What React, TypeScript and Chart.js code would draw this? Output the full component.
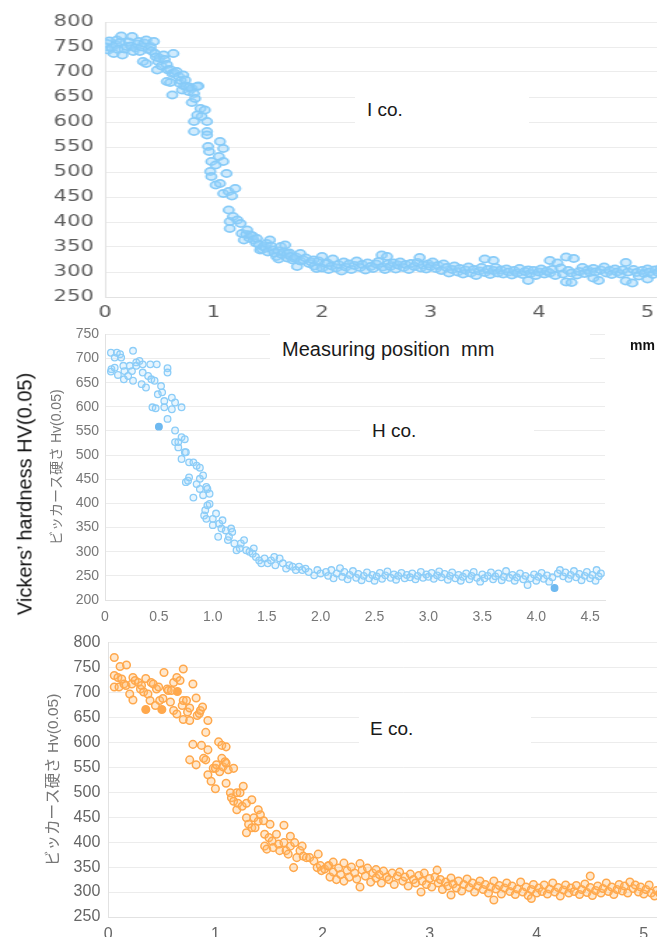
import React, { useEffect, useRef } from 'react';
import { Chart, registerables } from 'chart.js';

Chart.register(...registerables);

const FONT = "'Liberation Sans', Arial, 'Noto Sans CJK JP', sans-serif";
const WIDE_FONT = "'DejaVu Sans', 'Liberation Sans', sans-serif";

// ---------- I co. (top panel) ----------
const I_Y_RANGE = [250, 800];
const I_X_RANGE = [0, 5.5];
const I_DROP: [number, number][] = [
  [0.01,750],[0.02,757],[0.03,744],[0.04,762],[0.06,748],[0.08,737],[0.1,755],[0.11,764],[0.12,745],[0.14,760],
  [0.15,772],[0.16,734],[0.18,746],[0.2,751],[0.22,760],[0.24,752],[0.25,771],[0.26,741],[0.28,748],[0.3,756],
  [0.31,761],[0.32,741],[0.34,750],[0.35,721],[0.36,758],[0.38,764],[0.38,717],[0.4,745],[0.42,751],[0.43,742],
  [0.45,761],[0.46,737],[0.47,730],[0.48,704],[0.49,721],[0.5,728],[0.52,712],[0.54,734],[0.55,725],[0.57,715],
  [0.57,681],[0.58,704],[0.6,679],[0.6,705],[0.62,697],[0.62,654],[0.63,737],[0.64,698],[0.66,701],[0.68,691],
  [0.69,677],[0.7,683],[0.71,664],[0.72,694],[0.73,672],[0.74,684],[0.75,671],[0.77,661],[0.78,670],[0.8,667],
  [0.8,639],[0.82,657],[0.83,647],[0.85,671],[0.86,672],[0.82,601],[0.82,581],[0.85,614],[0.88,627],[0.89,611],
  [0.92,624],[0.94,601],[0.94,581],[0.94,574],[0.95,551],[0.96,541],[0.97,501],[0.98,521],[0.98,491],[1.02,514],
  [1.02,474],[1.05,531],[1.06,561],[1.06,477],[1.09,547],[1.09,521],[1.09,457],[1.12,497],[1.14,461],[1.14,424],
  [1.15,401],[1.15,387],[1.17,452],[1.18,411],[1.2,467],[1.22,404],[1.25,397],[1.26,377],[1.28,364],[1.3,375],
  [1.31,384],[1.33,368],[1.34,374],[1.36,372],[1.37,364],[1.39,358],[1.4,367],[1.42,355],[1.43,344],[1.45,345],
  [1.46,351],[1.48,348],[1.49,357],[1.5,340],[1.52,364],[1.53,352],[1.55,344],[1.56,338],[1.58,331],[1.6,342],
  [1.6,326],[1.62,351],[1.63,335],[1.65,340],[1.66,354],[1.68,337],[1.68,328],[1.7,338],[1.71,331],[1.73,324],
  [1.75,327],[1.76,330],[1.77,311],[1.8,337],[1.8,322],[1.83,324],[1.85,328],[1.88,317],[1.9,320],[1.92,324],
  [1.93,312],[1.95,307],[1.97,322],[2.0,331],[2.0,308],[2.03,317]
];
const I_TAIL: [number, number][] = [
  [2.05,318],[2.06,305],[2.09,312],[2.1,326],[2.13,308],[2.15,315],[2.18,302],[2.2,320],[2.22,310],[2.25,316],
  [2.27,305],[2.3,313],[2.32,322],[2.35,309],[2.37,315],[2.4,304],[2.42,318],[2.45,311],[2.47,307],[2.5,316],
  [2.52,321],[2.55,334],[2.56,310],[2.58,305],[2.6,331],[2.61,316],[2.63,311],[2.66,318],[2.68,306],[2.7,314],
  [2.72,320],[2.75,309],[2.77,315],[2.8,305],[2.82,317],[2.85,311],[2.88,319],[2.9,329],[2.91,308],[2.93,314],
  [2.96,306],[2.98,316],[3.0,311],[3.02,320],[3.05,307],[3.07,313],[3.1,303],[3.12,316],[3.15,309],[3.17,298],
  [3.2,305],[3.22,312],[3.25,300],[3.27,307],[3.3,296],[3.32,304],[3.35,310],[3.37,298],[3.4,305],[3.42,293],
  [3.45,302],[3.47,309],[3.5,326],[3.5,299],[3.53,305],[3.55,295],[3.58,323],[3.58,303],[3.6,309],[3.62,298],
  [3.65,304],[3.67,296],[3.7,306],[3.72,300],[3.75,294],[3.77,303],[3.8,298],[3.82,307],[3.85,295],[3.87,301],
  [3.9,283],[3.9,304],[3.92,297],[3.95,303],[3.97,293],[4.0,300],[4.02,306],[4.05,296],[4.07,302],[4.1,323],
  [4.1,298],[4.12,305],[4.15,293],[4.17,318],[4.2,308],[4.22,296],[4.25,330],[4.25,280],[4.27,303],[4.3,279],
  [4.3,298],[4.32,327],[4.35,294],[4.37,301],[4.4,309],[4.42,297],[4.45,304],[4.47,299],[4.5,288],[4.5,307],
  [4.52,300],[4.55,283],[4.57,304],[4.6,310],[4.62,298],[4.65,303],[4.67,295],[4.7,306],[4.72,300],[4.75,296],
  [4.77,304],[4.8,319],[4.8,282],[4.82,300],[4.86,278],[4.87,305],[4.9,299],[4.92,292],[4.95,303],[4.97,297],
  [5.0,286],[5.0,306],[5.02,300],[5.05,295],[5.07,304],[5.1,299],[5.12,307],[5.15,293],[5.17,301],[5.2,297],
  [5.22,305],[5.25,290],[5.27,300],[5.3,296],[5.32,304]
];

// ---------- H co. (middle panel) ----------
const H_Y_RANGE = [200, 750];
const H_X_RANGE = [0, 4.638];
const H_DROP: [number, number][] = [
  [0.055,712],[0.06,678],[0.055,673],[0.09,702],[0.11,712],[0.12,666],[0.14,709],[0.15,702],[0.09,681],[0.17,685],
  [0.18,674],[0.175,657],[0.215,664],[0.23,685],[0.25,674],[0.26,716],[0.26,654],[0.29,692],[0.29,685],[0.32,695],
  [0.35,688],[0.34,647],[0.38,640],[0.35,671],[0.4,664],[0.42,688],[0.43,657],[0.46,654],[0.48,688],[0.44,599],
  [0.47,597],[0.49,626],[0.52,643],[0.53,630],[0.58,680],[0.58,671],[0.55,612],[0.55,599],[0.58,575],[0.62,619],
  [0.62,595],[0.65,609],[0.71,599],[0.65,551],[0.65,527],[0.68,516],[0.68,527],[0.71,537],[0.74,533],[0.71,492],
  [0.74,506],[0.75,506],[0.78,485],[0.82,485],[0.75,444],[0.77,447],[0.78,454],[0.82,412],[0.85,478],[0.88,474],
  [0.85,440],[0.88,451],[0.91,458],[0.88,430],[0.91,417],[0.94,434],[0.95,430],[0.97,420],[0.93,386],[0.95,396],
  [0.97,399],[0.92,375],[0.94,368],[1.0,355],[1.03,379],[1.0,368],[1.06,358],[1.05,331],[1.08,348],[1.09,365],
  [1.12,344],[1.14,324],[1.15,331],[1.17,348],[1.18,341],[1.2,317],[1.22,303],[1.25,307],[1.26,317],[1.29,324],
  [1.31,303],[1.34,300],[1.37,296],[1.38,307],[1.4,289],[1.43,282],[1.45,276],[1.48,286],[1.51,276],[1.54,282],
  [1.57,289],[1.58,272],[1.62,286],[1.65,276],[1.68,265],[1.71,272],[1.74,269],[1.77,262],[1.8,269],[1.83,262],
  [1.86,265],[1.89,258],[1.94,251],[1.97,262],[2.0,255],[2.05,258]
];
const H_TAIL: [number, number][] = [
  [2.07,250],[2.1,262],[2.12,245],[2.15,255],[2.18,266],[2.2,248],[2.22,258],[2.25,243],[2.27,252],[2.3,260],
  [2.33,246],[2.35,254],[2.38,241],[2.4,250],[2.43,257],[2.45,245],[2.48,252],[2.5,240],[2.52,249],[2.55,256],
  [2.57,244],[2.6,251],[2.62,259],[2.65,246],[2.68,253],[2.7,242],[2.72,250],[2.75,256],[2.78,245],[2.8,252],
  [2.83,247],[2.85,255],[2.88,243],[2.9,250],[2.93,258],[2.95,246],[2.98,253],[3.0,248],[3.03,256],[3.05,244],
  [3.08,251],[3.1,259],[3.12,247],[3.15,254],[3.18,242],[3.2,250],[3.22,257],[3.25,245],[3.28,252],[3.3,240],
  [3.32,248],[3.35,255],[3.38,243],[3.4,250],[3.42,258],[3.45,246],[3.48,238],[3.5,253],[3.52,245],[3.55,250],
  [3.58,257],[3.6,243],[3.62,249],[3.65,255],[3.68,241],[3.7,248],[3.72,260],[3.75,246],[3.78,252],[3.8,240],
  [3.82,247],[3.85,255],[3.88,243],[3.9,250],[3.92,231],[3.95,245],[3.98,253],[4.0,240],[4.02,248],[4.05,256],
  [4.07,244],[4.1,251],[4.12,238],[4.15,247],[4.2,255],[4.22,262],[4.25,249],[4.27,257],[4.3,244],[4.32,252],
  [4.35,260],[4.37,247],[4.4,254],[4.42,241],[4.45,250],[4.47,258],[4.5,245],[4.52,252],[4.55,240],[4.56,262],
  [4.58,249],[4.6,255]
];
const H_FILLED: [number, number][] = [[0.5,559],[4.17,225]];

// ---------- E co. (bottom panel) ----------
const E_Y_RANGE = [250, 800];
const E_X_RANGE = [0, 5.5];
const E_DROP: [number, number][] = [
  [0.056,770],[0.056,734],[0.056,711],[0.09,730],[0.11,752],[0.1,711],[0.125,727],[0.146,717],[0.17,755],[0.165,714],
  [0.2,697],[0.22,717],[0.23,685],[0.23,730],[0.25,724],[0.28,720],[0.3,707],[0.31,714],[0.33,701],[0.35,728],
  [0.37,697],[0.39,684],[0.4,720],[0.42,717],[0.44,674],[0.45,707],[0.47,711],[0.48,684],[0.51,688],[0.52,740],
  [0.55,707],[0.56,704],[0.58,681],[0.59,704],[0.61,664],[0.61,720],[0.64,730],[0.64,657],[0.67,724],[0.69,674],
  [0.7,747],[0.7,684],[0.7,646],[0.73,684],[0.74,661],[0.76,669],[0.76,644],[0.79,717],[0.79,596],[0.76,565],
  [0.82,689],[0.83,654],[0.82,555],[0.85,658],[0.86,664],[0.88,671],[0.87,594],[0.89,568],[0.91,620],[0.91,565],
  [0.93,644],[0.93,585],[0.93,535],[0.96,522],[0.98,548],[1.0,507],[1.0,548],[1.01,555],[1.03,601],[1.04,541],
  [1.06,594],[1.06,568],[1.07,551],[1.09,561],[1.1,591],[1.1,558],[1.12,545],[1.17,548],[1.1,518],[1.14,499],
  [1.15,489],[1.17,482],[1.2,499],[1.2,465],[1.21,478],[1.23,499],[1.25,472],[1.26,512],[1.29,478],[1.29,449],
  [1.31,436],[1.29,419],[1.34,429],[1.34,485],[1.36,449],[1.37,429],[1.4,465],[1.4,442],[1.42,455],[1.45,443],
  [1.46,416],[1.46,392],[1.5,409],[1.51,436],[1.48,386],[1.53,402],[1.54,389],[1.57,416],[1.59,396],[1.6,383],
  [1.64,434],[1.64,399],[1.66,383],[1.68,376],[1.7,412],[1.7,392],[1.73,349],[1.74,399],[1.76,369],[1.79,383],
  [1.81,392],[1.82,372],[1.85,369],[1.88,369],[1.92,362],[1.95,349],[1.96,376],[1.98,353],[1.99,343],[2.02,346],
  [2.06,353]
];
const E_TAIL: [number, number][] = [
  [2.05,352],[2.07,330],[2.1,360],[2.1,340],[2.13,325],[2.15,348],[2.17,335],[2.2,358],[2.2,322],[2.23,343],
  [2.25,330],[2.27,350],[2.3,338],[2.32,326],[2.35,357],[2.35,310],[2.37,344],[2.4,332],[2.42,348],[2.45,320],
  [2.47,338],[2.5,345],[2.5,328],[2.53,335],[2.55,318],[2.57,342],[2.6,330],[2.62,325],[2.65,338],[2.67,315],
  [2.7,332],[2.72,340],[2.75,322],[2.77,330],[2.8,312],[2.82,336],[2.85,325],[2.87,318],[2.9,333],[2.92,300],
  [2.93,322],[2.95,338],[2.97,315],[3.0,327],[3.02,310],[3.05,330],[3.07,344],[3.08,318],[3.1,325],[3.12,305],
  [3.15,320],[3.17,312],[3.2,294],[3.2,328],[3.22,316],[3.25,308],[3.27,322],[3.3,302],[3.32,315],[3.35,326],
  [3.37,309],[3.4,318],[3.42,300],[3.45,312],[3.47,322],[3.5,305],[3.52,315],[3.55,298],[3.57,310],[3.6,284],
  [3.6,322],[3.62,306],[3.65,313],[3.67,296],[3.7,308],[3.72,318],[3.75,301],[3.77,312],[3.8,295],[3.82,306],
  [3.85,320],[3.87,300],[3.9,310],[3.92,293],[3.95,287],[3.95,305],[3.97,315],[4.0,298],[4.02,308],[4.05,301],
  [4.07,314],[4.1,296],[4.12,306],[4.15,318],[4.17,300],[4.2,309],[4.22,292],[4.25,304],[4.27,314],[4.3,298],
  [4.32,308],[4.35,301],[4.37,313],[4.4,295],[4.42,305],[4.45,316],[4.47,299],[4.5,332],[4.5,309],[4.52,293],
  [4.55,303],[4.57,312],[4.6,298],[4.62,307],[4.65,318],[4.67,301],[4.7,310],[4.72,295],[4.75,305],[4.77,315],
  [4.8,302],[4.82,312],[4.85,298],[4.87,320],[4.9,307],[4.92,314],[4.95,300],[4.97,310],[5.0,296],[5.02,305],
  [5.05,314],[5.07,298],[5.1,292],[5.12,303],[5.15,297]
];
const E_FILLED: [number, number][] = [[0.35,666],[0.5,666],[0.645,702]];

const Y_TITLE = 'ビッカース硬さ Hv(0.05)';
const MAIN_Y_TITLE = 'Vickers’ hardness HV(0.05)';
const X_TITLE = 'Measuring position  mm';

const BLUE = 'rgba(135,203,248,1)';
const BLUE_FILL = 'rgba(150,210,250,0.45)';
const ORANGE = 'rgba(255,168,76,1)';
const ORANGE_FILL = 'rgba(255,185,110,0.35)';

type Panel = {
  yRange: number[]; xRange: number[]; xStep: number; xFmt: (v: number) => string;
  padTop: number; padRight: number; xH: number; yW: number; xPad: number; yPad: number;
  tickSize: number; tickColor: string; tickFont: string; title?: { size: number; offset: number };
  datasets: any[];
};

function pts(a: [number, number][]) { return a.map(([x, y]) => ({ x, y })); }

function makeConfig(p: Panel): any {
  return {
    type: 'scatter',
    data: { datasets: p.datasets },
    options: {
      animation: false,
      responsive: false,
      devicePixelRatio: 1,
      layout: { padding: { left: 0, top: p.padTop, right: p.padRight, bottom: 0 } },
      plugins: { legend: { display: false }, tooltip: { enabled: false }, title: { display: false } },
      scales: {
        x: {
          type: 'linear', min: p.xRange[0], max: p.xRange[1],
          afterFit: (s: any) => { s.height = p.xH; },
          grid: { display: false, drawTicks: false },
          border: { display: true, color: '#e2e2e2', width: 1 },
          ticks: {
            stepSize: p.xStep, includeBounds: false, padding: p.xPad, maxRotation: 0, autoSkip: false,
            color: p.tickColor, font: { family: p.tickFont, size: p.tickSize }, callback: (v: any) => p.xFmt(Number(v)),
          },
        },
        y: {
          type: 'linear', min: p.yRange[0], max: p.yRange[1],
          afterFit: (s: any) => { s.width = p.yW; },
          grid: { color: '#ececec', lineWidth: 1, drawTicks: false },
          border: { display: true, color: '#e2e2e2', width: 1 },
          ticks: { stepSize: 50, padding: p.yPad, color: p.tickColor, font: { family: p.tickFont, size: p.tickSize } },
          title: p.title ? {
            display: true, text: Y_TITLE, color: '#777',
            font: { family: FONT, size: p.title.size }, padding: { top: p.title.offset, bottom: 0 },
          } : { display: false },
        },
      },
    },
  };
}

const S1 = 1.4; // horizontal stretch of the top panel
const W1 = 530; // canvas width (before stretch) of the top panel

export default function App() {
  const c1 = useRef<HTMLCanvasElement>(null);
  const c2 = useRef<HTMLCanvasElement>(null);
  const c3 = useRef<HTMLCanvasElement>(null);

  useEffect(() => {
    const charts: Chart[] = [];
    const unit1 = 108.5 / S1;
    const yW1 = 105 / S1;
    charts.push(new Chart(c1.current!, makeConfig({
      yRange: I_Y_RANGE, xRange: I_X_RANGE, xStep: 1, xFmt: v => String(v),
      padTop: 22, padRight: W1 - (yW1 + unit1 * I_X_RANGE[1]), xH: 33, yW: yW1, xPad: 7, yPad: 8,
      tickSize: 15, tickColor: '#5e5e5e', tickFont: WIDE_FONT,
      datasets: [{
        data: pts([...I_DROP, ...I_TAIL]), pointRadius: 3.6, pointBorderWidth: 1.6,
        borderColor: BLUE, backgroundColor: BLUE_FILL, pointHoverRadius: 3.6,
      }],
    })));
    charts.push(new Chart(c2.current!, makeConfig({
      yRange: H_Y_RANGE, xRange: H_X_RANGE, xStep: 0.5, xFmt: v => (v === 0 ? '0' : v.toFixed(1)),
      padTop: 13.3, padRight: 52, xH: 30, yW: 105, xPad: 9, yPad: 6,
      tickSize: 14, tickColor: '#777', tickFont: FONT,
      title: { size: 14, offset: 48.6 },
      datasets: [
        { data: pts([...H_DROP, ...H_TAIL]), pointRadius: 3.3, pointBorderWidth: 1.3,
          borderColor: 'rgba(140,205,248,1)', backgroundColor: 'rgba(160,215,250,0.25)' },
        { data: pts(H_FILLED), pointRadius: 3.3, pointBorderWidth: 1.3,
          borderColor: 'rgba(110,185,240,1)', backgroundColor: 'rgba(110,185,240,1)' },
      ],
    })));
    charts.push(new Chart(c3.current!, makeConfig({
      yRange: E_Y_RANGE, xRange: E_X_RANGE, xStep: 1, xFmt: v => String(v),
      padTop: 15, padRight: 720 - (108.3 + 107.1 * E_X_RANGE[1]), xH: 20, yW: 108.3, xPad: 8, yPad: 8,
      tickSize: 16, tickColor: '#666', tickFont: FONT,
      title: { size: 15.5, offset: 44 },
      datasets: [
        { data: pts([...E_DROP, ...E_TAIL]), pointRadius: 3.8, pointBorderWidth: 1.5,
          borderColor: ORANGE, backgroundColor: ORANGE_FILL },
        { data: pts(E_FILLED), pointRadius: 3.8, pointBorderWidth: 1.5,
          borderColor: ORANGE, backgroundColor: ORANGE },
      ],
    })));
    return () => { charts.forEach(c => c.destroy()); };
  }, []);

  const labelBox = (left: number, top: number, w: number, h: number, padL: number, size = 19): React.CSSProperties => ({
    position: 'absolute', left, top, width: w, height: h, background: '#fff',
    display: 'flex', alignItems: 'center', paddingLeft: padL, boxSizing: 'border-box',
    fontFamily: FONT, fontSize: size, color: '#1a1a1a', whiteSpace: 'pre',
  });

  return (
    <div style={{ position: 'fixed', left: 0, top: 0, width: 657, height: 937, overflow: 'hidden', background: '#fff' }}>
      <canvas ref={c1} width={W1} height={330}
        style={{ position: 'absolute', left: 0, top: 0, transform: `scaleX(${S1})`, transformOrigin: '0 0' }} />
      <canvas ref={c2} width={657} height={310} style={{ position: 'absolute', left: 0, top: 320 }} />
      <canvas ref={c3} width={720} height={312} style={{ position: 'absolute', left: 0, top: 625 }} />

      <div style={labelBox(355, 85, 174, 50, 12)}>I co.</div>
      <div style={labelBox(270, 324, 320, 50, 12, 20)}>{X_TITLE}</div>
      <div style={labelBox(360, 416, 174, 30, 12)}>H co.</div>
      <div style={labelBox(359, 701, 172, 55, 11)}>E co.</div>
      <div style={{ position: 'absolute', left: 630, top: 337, fontFamily: FONT, fontSize: 14, fontWeight: 'bold', color: '#111', whiteSpace: 'nowrap' }}>mm</div>
      <div style={{
        position: 'absolute', left: 25, top: 494, transform: 'translate(-50%, -50%) rotate(-90deg)',
        fontFamily: FONT, fontSize: 20, color: '#111', whiteSpace: 'nowrap',
      }}>{MAIN_Y_TITLE}</div>
    </div>
  );
}
